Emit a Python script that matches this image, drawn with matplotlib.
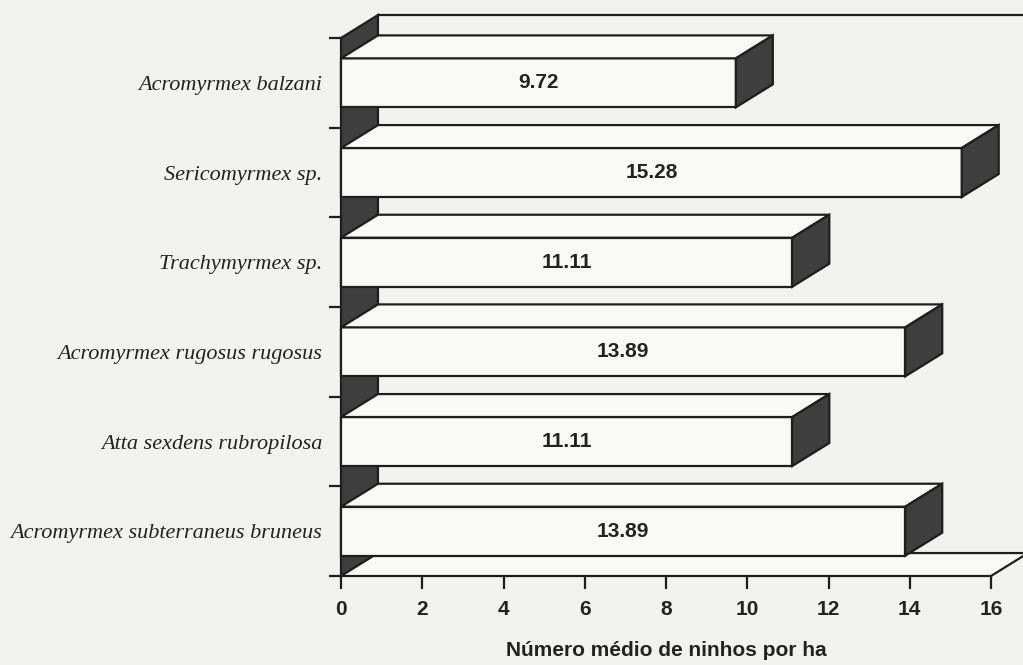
"""Mean number of ant nests per hectare, drawn as 3-D style horizontal bars."""

import numpy as np
import matplotlib.pyplot as plt
from matplotlib.patches import Polygon

species = ['Acromyrmex subterraneus bruneus',
           'Atta sexdens rubropilosa',
           'Acromyrmex rugosus rugosus',
           'Trachymyrmex sp.',
           'Sericomyrmex sp.',
           'Acromyrmex balzani']
nests = [13.89, 11.11, 13.89, 11.11, 15.28, 9.72]
x_ticks = [0, 2, 4, 6, 8, 10, 12, 14, 16]

X_MAX = 16
DEPTH_X, DEPTH_Y = 0.91, 0.256   # oblique offset of the back planes
HALF_H = 0.273                   # half height of the bar front face
PAPER = '#f2f2f0'
FACE = '#f9f9f7'
SHADE = '#3e3e3e'
EDGE = '#1e1e1e'
LW = 1.6

fig = plt.figure(figsize=(10.23, 6.65), dpi=100, facecolor=PAPER)
ax = fig.add_axes([341 / 1023, 89 / 665, 650 / 1023, 538 / 665])
ax.set_facecolor('none')
ax.set_xlim(0, X_MAX)
ax.set_ylim(0, len(species))


def face(pts, color, z):
    ax.add_patch(Polygon(pts, closed=True, facecolor=color, edgecolor=EDGE,
                         linewidth=LW, joinstyle='miter', clip_on=False,
                         zorder=z))


n = len(species)
# left wall and floor
face([(0, 0), (0, n), (DEPTH_X, n + DEPTH_Y), (DEPTH_X, DEPTH_Y)], SHADE, 1)
face([(0, 0), (X_MAX, 0), (X_MAX + DEPTH_X, DEPTH_Y), (DEPTH_X, DEPTH_Y)],
     FACE, 1)
ax.plot([DEPTH_X, X_MAX + DEPTH_X], [n + DEPTH_Y, n + DEPTH_Y], color=EDGE,
        lw=LW, clip_on=False, zorder=1)

for i, v in enumerate(nests):
    lo, hi = i + 0.5 - HALF_H, i + 0.5 + HALF_H
    face([(0, lo), (v, lo), (v, hi), (0, hi)], FACE, 3)
    face([(0, hi), (v, hi), (v + DEPTH_X, hi + DEPTH_Y), (DEPTH_X, hi + DEPTH_Y)],
         FACE, 3)
    face([(v, lo), (v, hi), (v + DEPTH_X, hi + DEPTH_Y), (v + DEPTH_X, lo + DEPTH_Y)],
         SHADE, 3)
    ax.text(v / 2, i + 0.5, f'{v:.2f}', ha='center', va='center',
            family='Liberation Sans', weight='bold', fontsize=15, color='#222',
            zorder=4)

for s in ax.spines.values():
    s.set_visible(False)

ax.set_xticks(x_ticks)
ax.set_xticklabels([str(t) for t in x_ticks], family='Liberation Sans',
                   weight='bold', fontsize=15, color='#222')
ax.tick_params(axis='x', direction='out', length=9, width=LW, color=EDGE,
               pad=8)

ax.set_yticks(np.arange(n + 1))
ax.set_yticklabels([])
ax.tick_params(axis='y', which='major', direction='out', length=9, width=LW,
               color=EDGE)
ax.set_yticks(np.arange(n) + 0.5, minor=True)
ax.set_yticklabels(species, minor=True, family='Liberation Serif',
                   style='italic', fontsize=16, color='#222')
ax.tick_params(axis='y', which='minor', length=0, pad=13.5)

ax.set_xlabel('Número médio de ninhos por ha', family='Liberation Sans',
              weight='bold', fontsize=15, color='#222', labelpad=16)

fig.savefig('out.png', dpi=100, facecolor=PAPER)
